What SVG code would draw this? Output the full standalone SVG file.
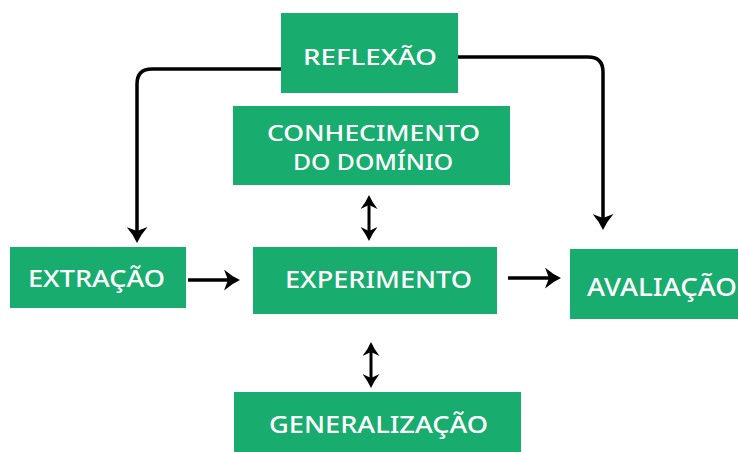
<svg xmlns="http://www.w3.org/2000/svg" width="738" height="452" viewBox="0 0 738 452">
<style>
.box{fill:#18AD6E}
.lbl{fill:#ffffff;font-family:"Noto Sans","Open Sans","Liberation Sans",sans-serif;font-weight:500}
.con{fill:none;stroke:#000;stroke-width:3.5}
.dbl{fill:none;stroke:#000;stroke-width:3}
</style>
<defs>
<marker id="arr" viewBox="0 0 16 21" markerWidth="16" markerHeight="21" refX="9" refY="10.5" orient="auto" markerUnits="userSpaceOnUse">
<path d="M0,0 Q8,7 16,10.5 Q8,14 0,21 L4,10.5 Z" fill="#000"/>
</marker>
<marker id="arr2" viewBox="0 0 14 17" markerWidth="14" markerHeight="17" refX="8" refY="8.5" orient="auto-start-reverse" markerUnits="userSpaceOnUse">
<path d="M0,0 Q7,5.5 14,8.5 Q7,11.5 0,17 L4,8.5 Z" fill="#000"/>
</marker>
</defs>
<rect width="738" height="452" fill="#ffffff"/>
<g id="connectors">
<path class="con" d="M282,69 H152 Q137,69 137,84 V236" marker-end="url(#arr)"/>
<path class="con" d="M458,57 H588 Q603,57 603,72 V223" marker-end="url(#arr)"/>
<path class="dbl" d="M369,201 V235" marker-start="url(#arr2)" marker-end="url(#arr2)"/>
<path class="dbl" d="M371,348 V382" marker-start="url(#arr2)" marker-end="url(#arr2)"/>
<path class="con" d="M188,280 H233" marker-end="url(#arr)"/>
<path class="con" d="M508,278 H554" marker-end="url(#arr)"/>
</g>
<g id="reflexao">
<rect class="box" x="281" y="13" width="177" height="80"/>
<text class="lbl" x="303" y="65" font-size="22" textLength="134" lengthAdjust="spacingAndGlyphs">REFLEXÃO</text>
</g>
<g id="conhecimento">
<rect class="box" x="233" y="106" width="277" height="79"/>
<text class="lbl" x="267" y="141" font-size="21" textLength="213" lengthAdjust="spacingAndGlyphs">CONHECIMENTO</text>
<text class="lbl" x="293" y="170" font-size="21" textLength="160" lengthAdjust="spacingAndGlyphs">DO DOMÍNIO</text>
</g>
<g id="extracao">
<rect class="box" x="10" y="247" width="176" height="61"/>
<text class="lbl" x="28" y="287" font-size="24" textLength="137" lengthAdjust="spacingAndGlyphs">EXTRAÇÃO</text>
</g>
<g id="experimento">
<rect class="box" x="253" y="247" width="244" height="67"/>
<text class="lbl" x="285" y="288" font-size="23" textLength="187" lengthAdjust="spacingAndGlyphs">EXPERIMENTO</text>
</g>
<g id="avaliacao">
<rect class="box" x="570" y="249" width="170" height="70"/>
<text class="lbl" x="587" y="296" font-size="26" textLength="150" lengthAdjust="spacingAndGlyphs">AVALIAÇÃO</text>
</g>
<g id="generalizacao">
<rect class="box" x="234" y="392" width="287" height="62"/>
<text class="lbl" x="269" y="433" font-size="24" textLength="219" lengthAdjust="spacingAndGlyphs">GENERALIZAÇÃO</text>
</g>
</svg>
